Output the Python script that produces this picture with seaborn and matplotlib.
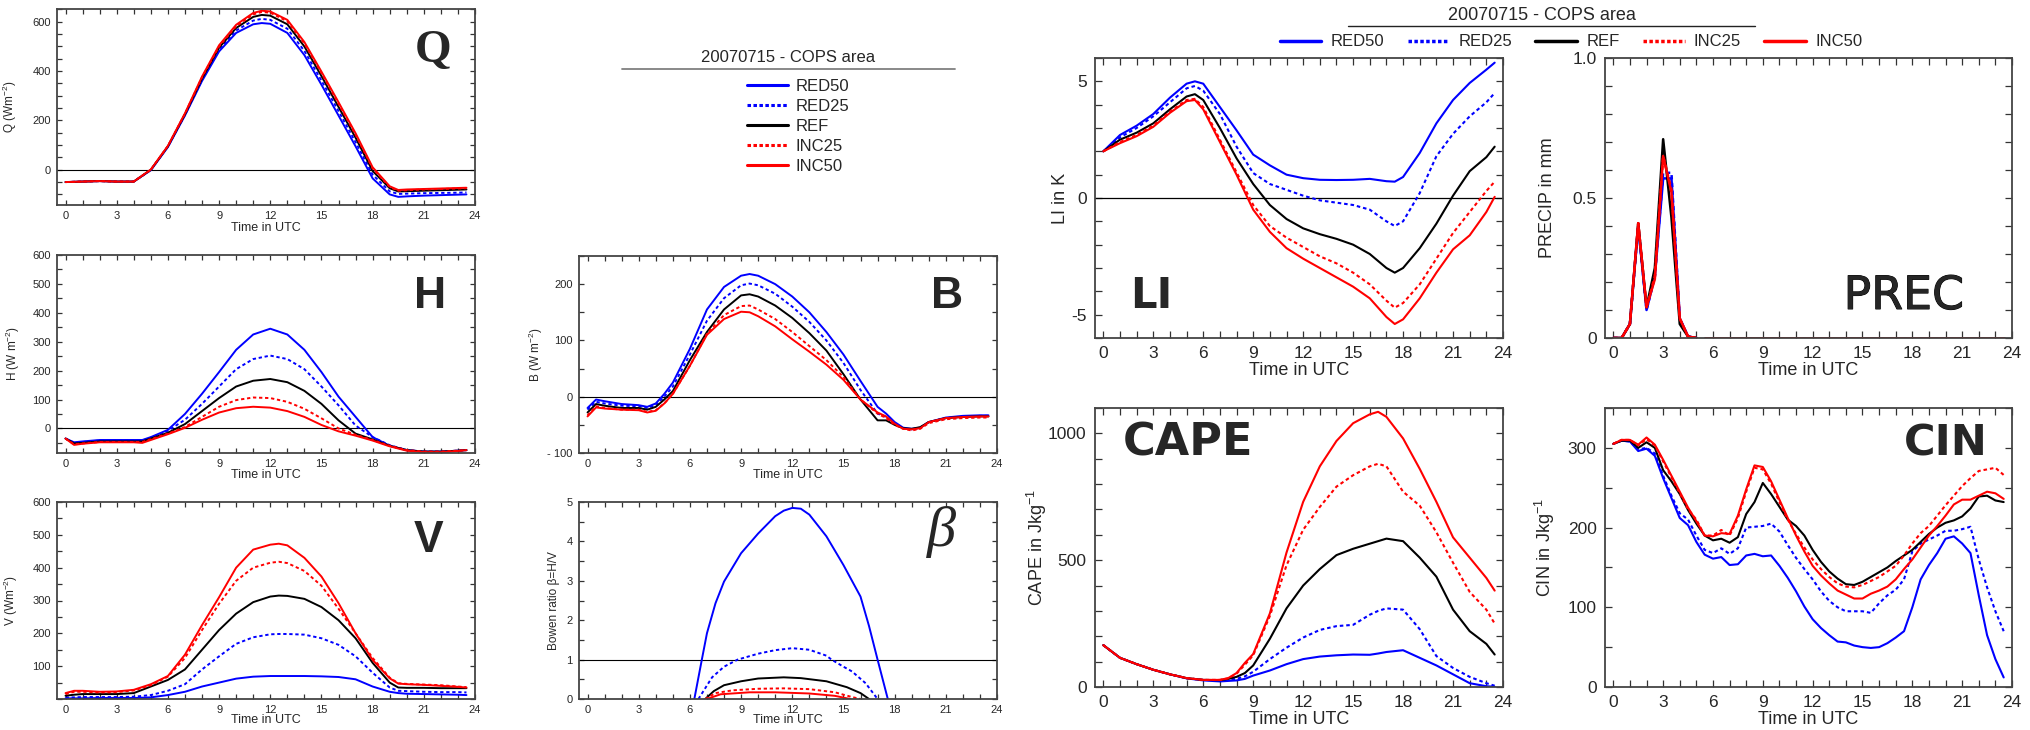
import numpy as np
import pandas as pd
import matplotlib
matplotlib.use("Agg")
import matplotlib.pyplot as plt
import matplotlib.patheffects as pe
import seaborn as sns
from matplotlib.lines import Line2D
from matplotlib.ticker import MultipleLocator, FixedLocator

sns.set_style("ticks")
plt.rcParams["font.family"] = ["Liberation Sans", "DejaVu Sans"]
plt.rcParams["mathtext.default"] = "regular"
plt.rcParams["axes.unicode_minus"] = False

# ---------------- data ----------------
SERIES = ["RED50", "RED25", "REF", "INC25", "INC50"]

Q_T = [0, 1, 2, 3, 4, 5, 6, 7, 8, 9, 10, 11, 11.5, 12, 13, 14, 15, 16, 17, 18, 19, 19.5, 20, 21, 22, 23, 23.5]
Q_RED50 = [-50, -48, -46, -48, -48, -2, 92, 220, 360, 480, 555, 590, 595, 592, 555, 465, 345, 220, 95, -35, -100, -110, -108, -105, -103, -101, -100]
Q_RED25 = [-50, -48, -46, -48, -48, -1, 94, 222, 365, 488, 565, 605, 612, 608, 572, 482, 362, 238, 112, -20, -88, -98, -97, -95, -94, -93, -92]
Q_REF = [-50, -48, -46, -48, -48, 0, 95, 225, 370, 495, 575, 620, 628, 625, 590, 500, 380, 255, 130, -5, -75, -88, -87, -85, -83, -81, -80]
Q_INC25 = [-50, -48, -46, -48, -48, 0, 96, 227, 375, 500, 582, 630, 640, 637, 602, 512, 392, 268, 142, 5, -70, -85, -83, -80, -78, -76, -75]
Q_INC50 = [-50, -48, -46, -48, -48, 1, 97, 229, 378, 505, 588, 636, 645, 642, 608, 518, 398, 274, 148, 10, -67, -82, -80, -78, -76, -74, -73]

H_T = [0, 0.5, 1, 2, 3, 4, 4.5, 5, 6, 7, 8, 9, 10, 11, 12, 13, 14, 15, 16, 17, 18, 19, 20, 21, 22, 23, 23.5]
H_RED50 = [-35, -48, -45, -40, -40, -40, -40, -30, -5, 50, 120, 195, 272, 325, 345, 325, 272, 195, 110, 40, -30, -60, -75, -80, -80, -77, -75]
H_RED25 = [-35, -50, -47, -42, -42, -42, -42, -32, -8, 30, 85, 145, 205, 240, 252, 240, 205, 145, 80, 10, -30, -58, -75, -80, -80, -77, -75]
H_REF = [-35, -52, -50, -45, -45, -45, -45, -35, -15, 15, 60, 105, 145, 165, 171, 160, 130, 85, 28, -18, -38, -60, -75, -80, -80, -77, -75]
H_INC25 = [-35, -55, -52, -47, -47, -47, -47, -37, -18, 5, 40, 75, 98, 107, 105, 92, 68, 35, 0, -22, -40, -60, -75, -80, -80, -77, -75]
H_INC50 = [-35, -57, -53, -48, -48, -48, -50, -40, -20, 2, 30, 55, 70, 75, 72, 60, 40, 12, -10, -25, -42, -62, -77, -82, -82, -78, -75]

V_T = [0, 0.5, 1, 2, 3, 4, 5, 6, 7, 8, 9, 10, 11, 12, 12.5, 13, 14, 15, 16, 17, 18, 19, 19.5, 20, 21, 22, 23, 23.5]
V_RED50 = [2, 2, 2, 3, 3, 3, 5, 12, 22, 38, 50, 62, 68, 70, 70, 70, 70, 69, 67, 60, 38, 22, 18, 16, 15, 14, 13, 12]
V_RED25 = [5, 5, 6, 6, 6, 7, 12, 25, 45, 90, 130, 168, 188, 197, 198, 198, 196, 185, 165, 130, 80, 35, 25, 24, 22, 21, 21, 20]
V_REF = [10, 13, 15, 15, 15, 18, 38, 58, 90, 150, 210, 260, 295, 312, 315, 314, 305, 280, 240, 185, 110, 50, 35, 34, 34, 33, 33, 33]
V_INC25 = [15, 22, 22, 20, 21, 26, 42, 68, 125, 210, 290, 360, 400, 415, 418, 414, 390, 345, 275, 200, 125, 65, 48, 46, 44, 42, 38, 36]
V_INC50 = [18, 25, 25, 22, 23, 28, 45, 70, 135, 225, 310, 400, 455, 470, 473, 468, 430, 373, 292, 200, 119, 63, 47, 45, 43, 40, 37, 35]

B_T = [0, 0.5, 1, 2, 3, 3.5, 4, 4.5, 5, 6, 7, 8, 9, 9.5, 10, 11, 12, 13, 14, 15, 16, 17, 17.5, 18, 18.5, 19, 19.5, 20, 21, 22, 23, 23.5]
B_RED50 = [-20, -5, -8, -13, -15, -18, -12, 5, 25, 85, 155, 195, 215, 218, 215, 200, 178, 150, 115, 75, 28, -18, -30, -45, -55, -57, -55, -45, -37, -34, -33, -33]
B_RED25 = [-23, -9, -12, -16, -17, -20, -15, 0, 18, 75, 135, 175, 198, 201, 198, 183, 160, 133, 100, 60, 12, -30, -36, -48, -56, -58, -55, -45, -38, -35, -34, -34]
B_REF = [-28, -13, -16, -20, -20, -23, -18, -5, 10, 65, 115, 155, 180, 182, 178, 162, 140, 113, 82, 40, -5, -42, -42, -50, -56, -57, -54, -45, -38, -36, -35, -35]
B_INC25 = [-33, -17, -20, -23, -23, -27, -24, -12, 5, 55, 112, 145, 161, 162, 155, 138, 115, 90, 65, 35, -5, -30, -38, -50, -57, -60, -57, -47, -40, -38, -37, -37]
B_INC50 = [-35, -19, -21, -23, -24, -28, -25, -12, 5, 55, 110, 138, 151, 150, 143, 125, 102, 80, 57, 30, -5, -28, -35, -48, -57, -58, -56, -45, -38, -36, -35, -35]

BETA_RED50_T = [6.26, 6.7, 7, 7.5, 8, 9, 10, 11, 11.5, 12, 12.5, 13, 14, 15, 16, 16.5, 17, 17.6]
BETA_RED50 = [0, 1.0, 1.67, 2.43, 2.98, 3.7, 4.2, 4.64, 4.78, 4.85, 4.83, 4.68, 4.13, 3.4, 2.6, 1.85, 1.0, 0]
BETA_RED25_T = [6.5, 7.3, 8, 8.8, 10, 11, 12, 13, 14, 14.3, 15, 15.5, 16.3, 17]
BETA_RED25 = [0, 0.55, 0.82, 1.0, 1.15, 1.24, 1.29, 1.25, 1.1, 1.0, 0.82, 0.7, 0.4, 0]
BETA_REF_T = [6.9, 7.4, 8, 9, 10, 11, 11.5, 12.5, 14, 15.2, 16, 16.5]
BETA_REF = [0, 0.2, 0.35, 0.45, 0.52, 0.54, 0.55, 0.53, 0.45, 0.3, 0.15, 0]
BETA_INC25_T = [6.9, 7.5, 8.5, 10, 11.5, 13, 14.5, 15.5, 16]
BETA_INC25 = [0, 0.15, 0.22, 0.26, 0.27, 0.25, 0.17, 0.05, 0]
BETA_INC50_T = [7.0, 7.8, 9.5, 11, 13, 14.5, 15.4]
BETA_INC50 = [0, 0.12, 0.17, 0.17, 0.14, 0.08, 0]

LI_T = [0, 1, 2, 3, 4, 5, 5.5, 6, 7, 8, 9, 10, 11, 12, 13, 14, 15, 16, 17, 17.5, 18, 19, 20, 21, 22, 23, 23.5]
LI_RED50 = [2.0, 2.7, 3.1, 3.6, 4.3, 4.9, 5.0, 4.9, 3.9, 2.9, 1.86, 1.4, 1.0, 0.85, 0.78, 0.77, 0.78, 0.82, 0.72, 0.7, 0.9, 1.93, 3.2, 4.2, 4.93, 5.5, 5.8]
LI_RED25 = [2.0, 2.6, 3.0, 3.5, 4.1, 4.7, 4.8, 4.6, 3.6, 2.2, 1.07, 0.6, 0.35, 0.1, -0.1, -0.2, -0.3, -0.5, -1.0, -1.2, -1.0, 0.21, 1.79, 2.75, 3.5, 4.1, 4.5]
LI_REF = [2.0, 2.5, 2.8, 3.2, 3.8, 4.35, 4.45, 4.2, 3.0, 1.7, 0.6, -0.3, -0.9, -1.3, -1.55, -1.75, -2.0, -2.4, -3.0, -3.2, -3.0, -2.15, -1.1, 0.1, 1.15, 1.75, 2.2]
LI_INC25 = [2.0, 2.4, 2.7, 3.1, 3.7, 4.2, 4.25, 3.9, 2.5, 1.1, -0.3, -1.2, -1.7, -2.1, -2.5, -2.8, -3.2, -3.7, -4.4, -4.7, -4.5, -3.7, -2.6, -1.5, -0.6, 0.3, 0.7]
LI_INC50 = [2.0, 2.35, 2.65, 3.05, 3.65, 4.15, 4.2, 3.8, 2.4, 1.0, -0.5, -1.45, -2.15, -2.6, -3.0, -3.4, -3.8, -4.3, -5.1, -5.4, -5.2, -4.3, -3.2, -2.2, -1.6, -0.6, 0.05]

PREC_T = [0, 0.5, 1, 1.5, 2, 2.5, 3, 3.5, 4, 4.5, 5, 5.5, 23.5]
PREC_GAP = 11  # the curves break between 5 and 5.5 UTC
PREC_RED50 = [0, 0, 0.05, 0.40, 0.10, 0.22, 0.57, 0.57, 0.07, 0.005, 0, 0, 0]
PREC_RED25 = [0, 0, 0.05, 0.40, 0.10, 0.22, 0.59, 0.59, 0.07, 0.005, 0, 0, 0]
PREC_REF = [0, 0, 0.05, 0.41, 0.11, 0.25, 0.71, 0.43, 0.05, 0.005, 0, 0, 0]
PREC_INC25 = [0, 0, 0.05, 0.41, 0.11, 0.22, 0.65, 0.53, 0.07, 0.005, 0, 0, 0]
PREC_INC50 = [0, 0, 0.05, 0.41, 0.11, 0.21, 0.65, 0.52, 0.07, 0.005, 0, 0, 0]

CAPE_T = [0, 1, 2, 3, 4, 5, 6, 7, 7.5, 8, 8.5, 9, 10, 11, 12, 13, 14, 15, 16, 16.5, 17, 18, 19, 20, 21, 22, 23, 23.5]
CAPE_RED50 = [165, 115, 90, 68, 50, 34, 26, 22, 24, 26, 32, 45, 65, 90, 110, 120, 125, 128, 127, 132, 138, 145, 115, 85, 50, 15, 3, 1]
CAPE_RED25 = [165, 115, 90, 68, 50, 35, 28, 26, 29, 32, 42, 60, 110, 155, 195, 225, 240, 245, 285, 300, 310, 305, 228, 122, 75, 40, 15, 5]
CAPE_REF = [165, 115, 90, 68, 50, 35, 28, 27, 32, 40, 55, 85, 190, 310, 400, 465, 520, 545, 565, 575, 585, 575, 510, 435, 305, 220, 170, 128]
CAPE_INC25 = [165, 115, 90, 68, 50, 35, 28, 28, 34, 52, 88, 125, 280, 480, 620, 710, 790, 835, 870, 880, 870, 770, 715, 610, 490, 375, 305, 250]
CAPE_INC50 = [165, 115, 90, 68, 50, 35, 28, 28, 35, 55, 95, 130, 290, 530, 730, 870, 970, 1040, 1075, 1085, 1065, 980, 860, 730, 590, 510, 430, 380]

CIN_T = [0, 0.5, 1, 1.5, 2, 2.5, 3, 3.5, 4, 4.5, 5, 5.5, 6, 6.5, 7, 7.5, 8, 8.5, 9, 9.5, 10, 10.5, 11, 11.5,
         12, 12.5, 13, 13.5, 14, 14.5, 15, 15.5, 16, 16.5, 17, 17.5, 18, 18.5, 19, 19.5, 20, 20.5, 21, 21.5, 22, 22.5, 23, 23.5]
CIN_RED50 = [305, 309, 308, 296, 299, 290, 262, 237, 212, 203, 182, 166, 161, 163, 153, 154, 165, 167, 164, 165, 152, 137, 120, 101,
             85, 74, 65, 57, 56, 52, 50, 49, 50, 55, 62, 70, 100, 135, 153, 168, 186, 189, 180, 168, 115, 65, 35, 12]
CIN_RED25 = [305, 309, 308, 298, 300, 293, 265, 240, 218, 210, 190, 172, 168, 174, 167, 174, 200, 201, 202, 205, 195, 178, 162, 148,
             135, 120, 108, 100, 95, 95, 95, 93, 105, 115, 122, 135, 170, 180, 185, 190, 196, 196, 198, 201, 160, 125, 95, 70]
CIN_REF = [305, 309, 309, 300, 307, 300, 272, 258, 242, 222, 205, 190, 184, 186, 181, 188, 217, 232, 256, 242, 226, 210, 202, 190,
           172, 157, 145, 136, 129, 128, 132, 138, 144, 150, 158, 165, 172, 182, 192, 200, 206, 209, 214, 224, 239, 240, 234, 232]
CIN_INC25 = [305, 310, 310, 303, 311, 303, 283, 263, 243, 223, 210, 190, 190, 197, 190, 212, 245, 275, 273, 255, 232, 210, 192, 175,
             160, 148, 138, 130, 126, 125, 128, 133, 138, 145, 152, 165, 180, 193, 202, 215, 228, 240, 252, 262, 271, 273, 275, 266]
CIN_INC50 = [305, 310, 310, 304, 313, 304, 285, 265, 245, 225, 208, 190, 189, 193, 192, 215, 248, 278, 276, 258, 235, 212, 190, 170,
             152, 140, 130, 121, 116, 111, 111, 117, 121, 126, 135, 148, 160, 175, 190, 202, 215, 229, 235, 235, 240, 245, 243, 236]

# ---------------- styling ----------------
COLORS = {"RED50": "#0000ff", "RED25": "#0000ff", "REF": "#000000", "INC25": "#ff0000", "INC50": "#ff0000"}
DOT = (0, (1.7, 1.4))
STYLES = {"RED50": "-", "RED25": DOT, "REF": "-", "INC25": DOT, "INC50": "-"}

W, H = 2031, 730
fig = plt.figure(figsize=(W / 100, H / 100), dpi=100)


def px_axes(x0, y0, x1, y1):
    return fig.add_axes([x0 / W, 1 - y1 / H, (x1 - x0) / W, (y1 - y0) / H])


def draw(ax, t, data, lw):
    for name in SERIES:
        tt = t[name] if isinstance(t, dict) else t
        sns.lineplot(x=tt, y=data[name], ax=ax, color=COLORS[name],
                     linestyle=STYLES[name], lw=lw, estimator=None, sort=False)


def style(ax, ylim, yticks, yminor, small, ylabel, ylab_x, xlab_y, ticklabels=None):
    ax.set_xlim(-0.5, 24)
    ax.set_ylim(*ylim)
    ax.xaxis.set_major_locator(FixedLocator([0, 3, 6, 9, 12, 15, 18, 21, 24]))
    ax.xaxis.set_minor_locator(MultipleLocator(1))
    ax.yaxis.set_major_locator(FixedLocator(yticks))
    ax.yaxis.set_minor_locator(MultipleLocator(yminor))
    if ticklabels is not None:
        ax.set_yticklabels(ticklabels)
    fs = 8 if small else 12.5
    tl = 3.6 if small else 5
    pad = 4.5 if small else 6
    ax.tick_params(which="both", direction="in", top=True, right=True,
                   length=tl, width=0.9, color="#333333", labelsize=fs, pad=pad)
    for s in ax.spines.values():
        s.set_color("#444444")
        s.set_linewidth(1.3)
    ax.set_xlabel("Time in UTC", fontsize=9 if small else 13)
    ax.set_ylabel(ylabel, fontsize=8.5 if small else 13)
    ax.yaxis.set_label_coords(ylab_x, 0.5)
    ax.xaxis.set_label_coords(0.5, xlab_y)
    ax.grid(False)


def big(x, y, s, size, **kw):
    return fig.text(x / W, 1 - y / H, s, fontsize=size, ha="center", va="baseline", **kw)


# Q
axQ = px_axes(57, 9, 475, 205)
axQ.axhline(0, color="black", lw=0.8, zorder=1)
draw(axQ, Q_T, dict(zip(SERIES, [Q_RED50, Q_RED25, Q_REF, Q_INC25, Q_INC50])), 1.4)
style(axQ, (-143, 652), [0, 200, 400, 600], 50, True, "Q (Wm$^{-2}$)", -0.091, -0.085)
big(433, 62, "Q", 34, family="Liberation Serif", fontweight="bold")

# H
axH = px_axes(57, 255, 475, 453)
axH.axhline(0, color="black", lw=0.8, zorder=1)
draw(axH, H_T, dict(zip(SERIES, [H_RED50, H_RED25, H_REF, H_INC25, H_INC50])), 1.4)
style(axH, (-85, 600), [0, 100, 200, 300, 400, 500, 600], 50, True, "H (W m$^{-2}$)", -0.084, -0.08)
big(430, 308, "H", 32, fontweight="bold")

# V
axV = px_axes(57, 502, 475, 699)
draw(axV, V_T, dict(zip(SERIES, [V_RED50, V_RED25, V_REF, V_INC25, V_INC50])), 1.4)
style(axV, (0, 600), [100, 200, 300, 400, 500, 600], 50, True, "V (Wm$^{-2}$)", -0.089, -0.075)
big(429, 552, "V", 32, fontweight="bold")

# B
axB = px_axes(579, 256, 997, 453)
axB.axhline(0, color="black", lw=0.8, zorder=1)
draw(axB, B_T, dict(zip(SERIES, [B_RED50, B_RED25, B_REF, B_INC25, B_INC50])), 1.4)
style(axB, (-100, 250), [-100, 0, 100, 200], 50, True, "B (W m$^{-2}$)", -0.081, -0.08,
      ticklabels=["- 100", "0", "100", "200"])
big(947, 308, "B", 32, fontweight="bold")

# beta
axBeta = px_axes(579, 502, 997, 699)
axBeta.axhline(1, color="black", lw=0.8, zorder=1)
draw(axBeta,
     dict(zip(SERIES, [BETA_RED50_T, BETA_RED25_T, BETA_REF_T, BETA_INC25_T, BETA_INC50_T])),
     dict(zip(SERIES, [BETA_RED50, BETA_RED25, BETA_REF, BETA_INC25, BETA_INC50])), 1.4)
style(axBeta, (0, 5), [0, 1, 2, 3, 4, 5], 0.5, True, "Bowen ratio \u03b2=H/V", -0.045, -0.075)
big(941, 546, "\u03b2", 42, family="Liberation Serif", fontstyle="italic")

# LI
axLI = px_axes(1095, 58, 1503, 338)
axLI.axhline(0, color="black", lw=0.9, zorder=1)
draw(axLI, LI_T, dict(zip(SERIES, [LI_RED50, LI_RED25, LI_REF, LI_INC25, LI_INC50])), 1.5)
style(axLI, (-6, 6), [-5, 0, 5], 1, False, "LI in K", -0.064, -0.085)
big(1151, 308, "LI", 30, family="DejaVu Sans", fontweight="bold")

# PREC
axP = px_axes(1605, 58, 2012, 338)
for name, vals in zip(SERIES, [PREC_RED50, PREC_RED25, PREC_REF, PREC_INC25, PREC_INC50]):
    for sl in (slice(0, PREC_GAP), slice(PREC_GAP, None)):
        sns.lineplot(x=PREC_T[sl], y=vals[sl], ax=axP, color=COLORS[name],
                     linestyle=STYLES[name], lw=1.8, estimator=None, sort=False)
style(axP, (0, 1), [0, 0.5, 1.0], 0.1, False, "PRECIP in mm", -0.12, -0.085,
      ticklabels=["0", "0.5", "1.0"])
tp = big(1904, 309, "PREC", 33, family="DejaVu Sans")
tp.set_path_effects([pe.withStroke(linewidth=0.7, foreground="black")])

# CAPE
axC = px_axes(1095, 408, 1503, 687)
draw(axC, CAPE_T, dict(zip(SERIES, [CAPE_RED50, CAPE_RED25, CAPE_REF, CAPE_INC25, CAPE_INC50])), 1.5)
style(axC, (0, 1100), [0, 500, 1000], 100, False, "CAPE in Jkg$^{-1}$", -0.113, -0.085)
big(1188, 455, "CAPE", 32, family="DejaVu Sans", fontweight="bold")

# CIN
axN = px_axes(1605, 408, 2012, 687)
draw(axN, CIN_T, dict(zip(SERIES, [CIN_RED50, CIN_RED25, CIN_REF, CIN_INC25, CIN_INC50])), 1.5)
style(axN, (0, 350), [0, 100, 200, 300], 50, False, "CIN in Jkg$^{-1}$", -0.118, -0.085)
big(1946, 455, "CIN", 31, family="DejaVu Sans", fontweight="bold")

# ---------------- legends ----------------
LDOT = (0, (1.15, 0.8))
mid_handles = [Line2D([], [], color=COLORS[n], lw=2.2,
                      linestyle=(LDOT if STYLES[n] != "-" else "-")) for n in SERIES]
fig.text(788 / W, 1 - 57 / H, "20070715 - COPS area", ha="center", va="center", fontsize=12)
fig.add_artist(Line2D([622 / W, 955 / W], [1 - 69 / H, 1 - 69 / H], color="#808080", lw=1.3,
                      transform=fig.transFigure))
fig.legend(mid_handles, SERIES, loc="upper left", bbox_to_anchor=(747 / W, 1 - 79 / H),
           frameon=False, fontsize=12, handlelength=2.45, handletextpad=0.45,
           labelspacing=0.3, borderpad=0, borderaxespad=0)

top_handles = [Line2D([], [], color=COLORS[n], lw=2.5,
                      linestyle=((0, (1.0, 0.7)) if STYLES[n] != "-" else "-")) for n in SERIES]
fig.text(1542 / W, 1 - 15 / H, "20070715 - COPS area", ha="center", va="center", fontsize=13)
fig.add_artist(Line2D([1348 / W, 1755 / W], [1 - 26 / H, 1 - 26 / H], color="#222222", lw=1.0,
                      transform=fig.transFigure))
fig.legend(top_handles, SERIES, loc="center", bbox_to_anchor=(1571 / W, 1 - 42 / H), ncol=5,
           frameon=False, fontsize=12, handlelength=2.5, handletextpad=0.55,
           columnspacing=1.4, borderpad=0, borderaxespad=0)

fig.savefig("out.png", dpi=100)
